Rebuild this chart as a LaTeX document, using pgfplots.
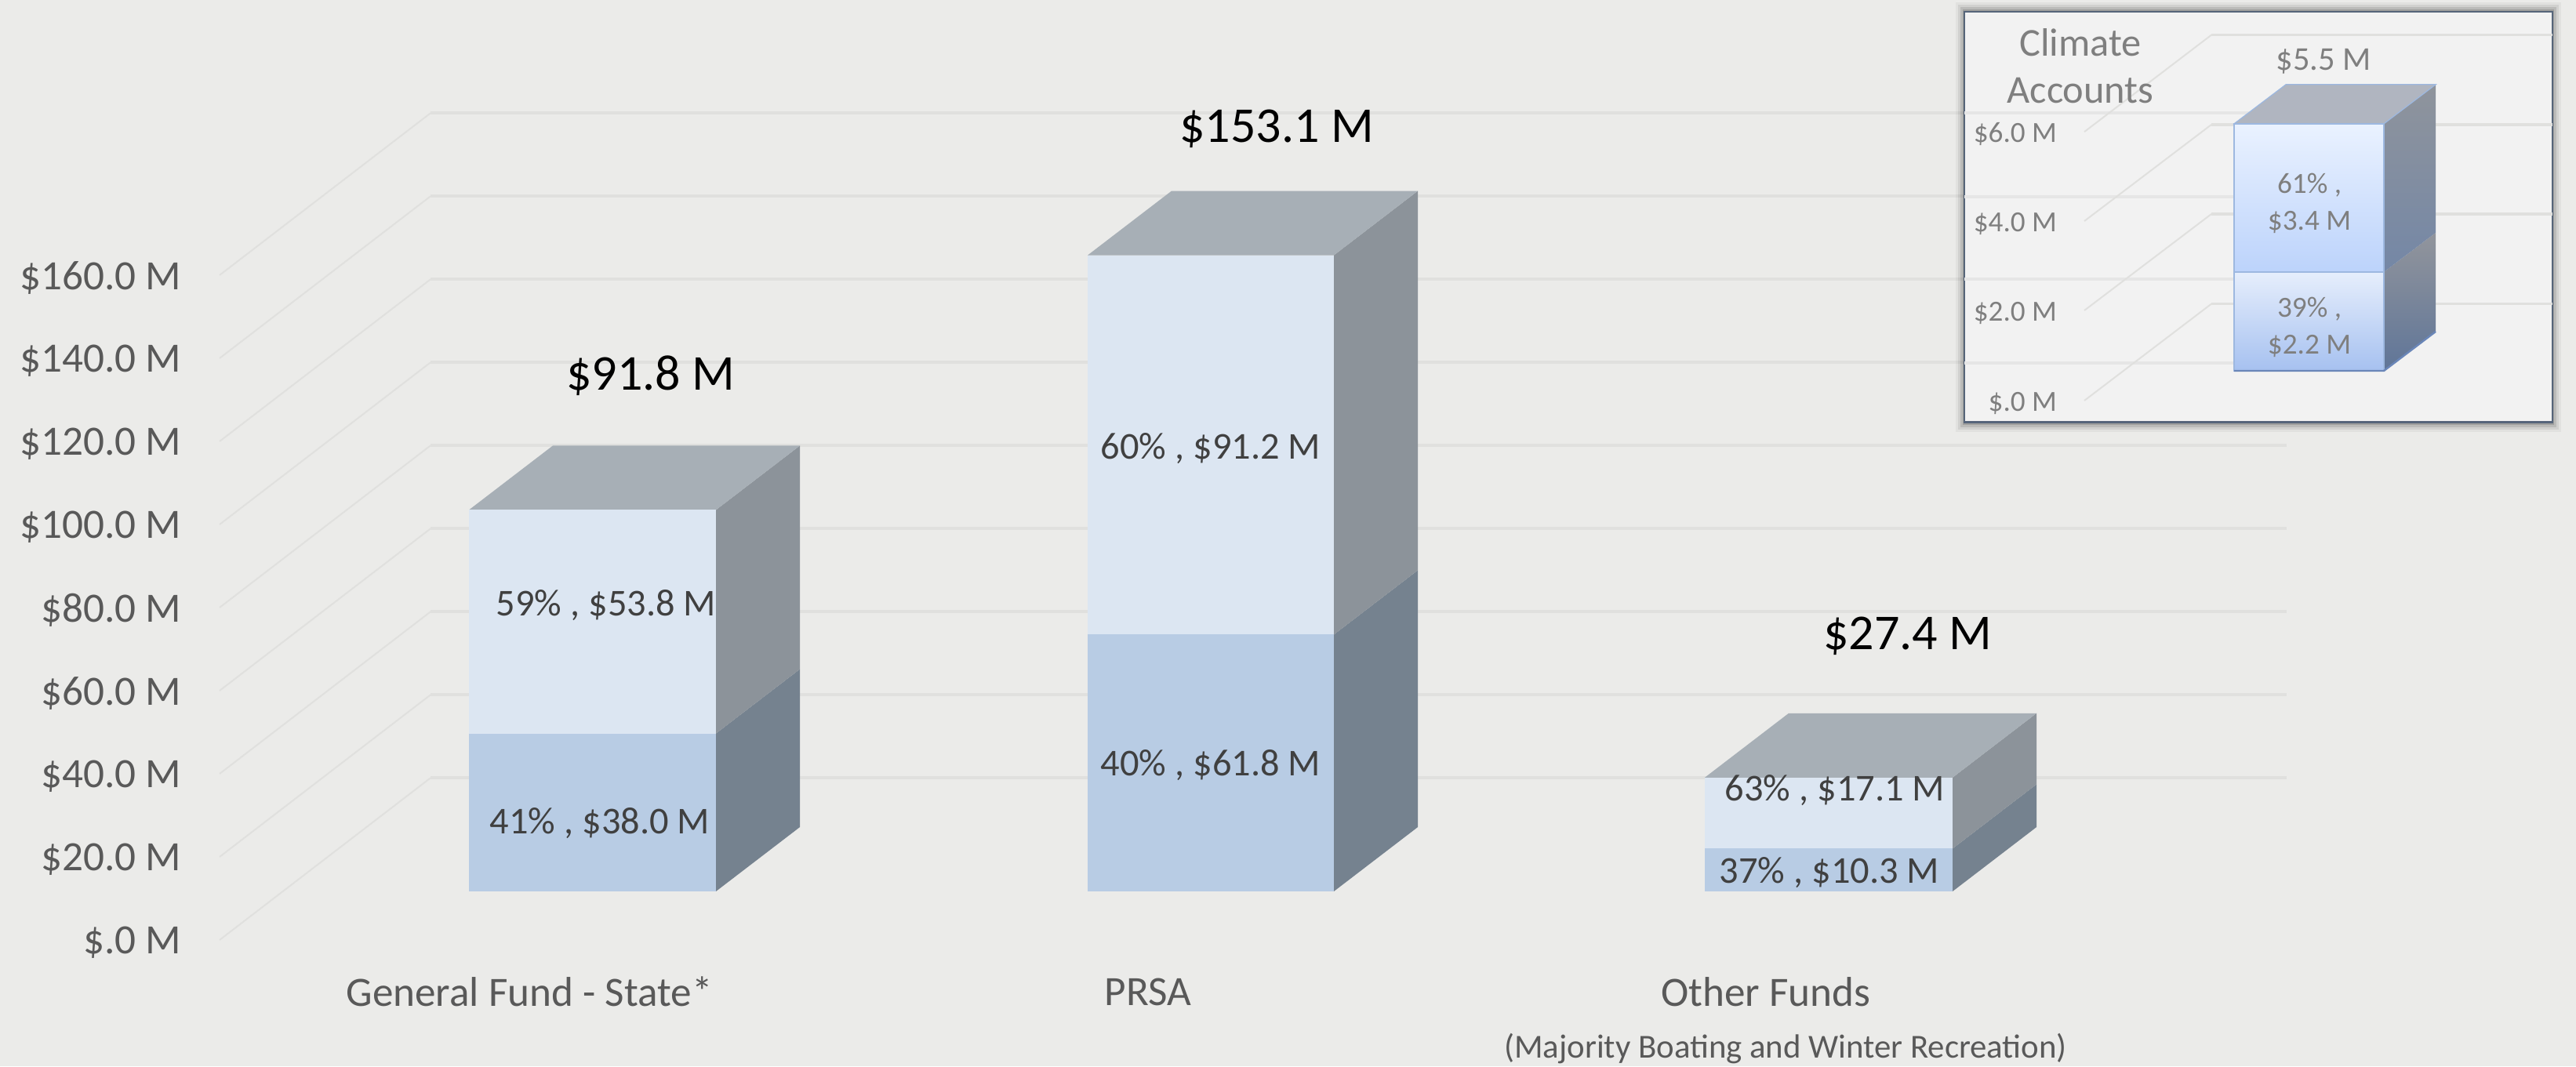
\documentclass[border=0pt]{standalone}
\usepackage{fontspec}
\setmainfont{Carlito}
\usepackage{pgfplots}
\pgfplotsset{compat=1.18}
\definecolor{bg}{HTML}{EBEBE9}
\definecolor{gridc}{HTML}{E0E0DE}
\definecolor{ticktxt}{HTML}{595959}
\definecolor{valtxt}{HTML}{404040}
\definecolor{insettxt}{HTML}{7F7F7F}
\definecolor{frontup}{HTML}{DCE6F2}
\definecolor{frontlo}{HTML}{B8CCE4}
\definecolor{sideup}{HTML}{8C939A}
\definecolor{sidelo}{HTML}{75828F}
\definecolor{topc}{HTML}{A7AFB6}
% inset colours
\definecolor{boxc}{HTML}{F2F2F2}
\definecolor{boxline}{HTML}{56657A}
\definecolor{boxgrid}{HTML}{E6E6E6}
\definecolor{inedge}{HTML}{9DB8E0}
\definecolor{inbase}{HTML}{6A86B8}
\definecolor{intop}{HTML}{B0B5C0}
\definecolor{insideAt}{HTML}{92959C}
\definecolor{insideAb}{HTML}{5F7598}
\definecolor{insideBt}{HTML}{8F949C}
\definecolor{insideBb}{HTML}{7487A6}
\definecolor{inloT}{HTML}{E6EEFC}
\definecolor{inloB}{HTML}{A6C1F0}
\definecolor{inupT}{HTML}{EAF2FF}
\definecolor{inupB}{HTML}{BCD3FB}
\newcommand{\fs}[1]{\fontsize{#1}{#1}\selectfont}
\begin{document}
\begin{tikzpicture}
\useasboundingbox (0,0) rectangle (821.25pt,340pt);
\begin{axis}[
    name=main,
    scale only axis, width=821.25pt, height=340pt,
    xmin=0, xmax=3285, ymin=-42.08, ymax=214.53,
    axis background/.style={fill=bg},
    axis line style={draw=none},
    major tick length=0pt,
    unbounded coords=jump,
    ytick={-11.7,8.3,28.3,48.3,68.3,88.3,108.3,128.3,148.3},
    yticklabels={\$.0 M,\$20.0 M,\$40.0 M,\$60.0 M,\$80.0 M,\$100.0 M,\$120.0 M,\$140.0 M,\$160.0 M},
    yticklabel style={anchor=east, xshift=58pt, yshift=-0.9pt, inner sep=0pt, text=ticktxt, font=\fs{13.3}},
    xtick={675,1464,2252},
    xticklabels={General Fund - State*,PRSA,Other Funds},
    xticklabel style={anchor=center, yshift=23.7pt, inner sep=0pt, text=ticktxt, font=\fs{13.3}},
]
% floor/wall gridlines, slanted part then the long back part
\addplot[gridc, line width=0.5pt] coordinates {
 (280,-11.7) (549,27.3) (nan,nan) (280,8.3) (549,47.3) (nan,nan)
 (280,28.3) (549,67.3) (nan,nan) (280,48.3) (549,87.3) (nan,nan)
 (280,68.3) (549,107.3) (nan,nan) (280,88.3) (549,127.3) (nan,nan)
 (280,108.3) (549,147.3) (nan,nan) (280,128.3) (549,167.3) (nan,nan)
 (280,148.3) (549,187.3)};
\addplot[gridc, line width=1pt] coordinates {
 (549,27.3) (2916,27.3) (nan,nan) (549,47.3) (2916,47.3) (nan,nan)
 (549,67.3) (2916,67.3) (nan,nan) (549,87.3) (2916,87.3) (nan,nan)
 (549,107.3) (2916,107.3) (nan,nan) (549,127.3) (2916,127.3) (nan,nan)
 (549,147.3) (2916,147.3) (nan,nan) (549,167.3) (2916,167.3) (nan,nan)
 (549,187.3) (2916,187.3)};

% General Fund - State: 38.0 + 53.8
\addplot[fill=sidelo, draw=none] coordinates {(913,0) (1020,15.47) (1020,53.47) (913,38)} -- cycle;
\addplot[fill=sideup, draw=none] coordinates {(913,38) (1020,53.47) (1020,107.27) (913,91.8)} -- cycle;
\addplot[fill=topc, draw=none] coordinates {(598,91.8) (913,91.8) (1020,107.27) (705,107.27)} -- cycle;
\addplot[fill=frontlo, draw=none] coordinates {(598,0) (913,0) (913,38) (598,38)} -- cycle;
\addplot[fill=frontup, draw=none] coordinates {(598,38) (913,38) (913,91.8) (598,91.8)} -- cycle;

% PRSA: 61.8 + 91.2
\addplot[fill=sidelo, draw=none] coordinates {(1701,0) (1808,15.47) (1808,77.27) (1701,61.8)} -- cycle;
\addplot[fill=sideup, draw=none] coordinates {(1701,61.8) (1808,77.27) (1808,168.57) (1701,153.1)} -- cycle;
\addplot[fill=topc, draw=none] coordinates {(1387,153.1) (1701,153.1) (1808,168.57) (1494,168.57)} -- cycle;
\addplot[fill=frontlo, draw=none] coordinates {(1387,0) (1701,0) (1701,61.8) (1387,61.8)} -- cycle;
\addplot[fill=frontup, draw=none] coordinates {(1387,61.8) (1701,61.8) (1701,153.1) (1387,153.1)} -- cycle;

% Other Funds: 10.3 + 17.1
\addplot[fill=sidelo, draw=none] coordinates {(2490,0) (2597,15.47) (2597,25.77) (2490,10.3)} -- cycle;
\addplot[fill=sideup, draw=none] coordinates {(2490,10.3) (2597,25.77) (2597,42.87) (2490,27.4)} -- cycle;
\addplot[fill=topc, draw=none] coordinates {(2174,27.4) (2490,27.4) (2597,42.87) (2281,42.87)} -- cycle;
\addplot[fill=frontlo, draw=none] coordinates {(2174,0) (2490,0) (2490,10.3) (2174,10.3)} -- cycle;
\addplot[fill=frontup, draw=none] coordinates {(2174,10.3) (2490,10.3) (2490,27.4) (2174,27.4)} -- cycle;

% inset shadow
\addplot[fill=black, fill opacity=0.04, draw=none] coordinates {(2494,214.0) (3266,214.0) (3266,110.6) (2494,110.6)} -- cycle;
\addplot[fill=black, fill opacity=0.07, draw=none] coordinates {(2497,213.4) (3263,213.4) (3263,111.2) (2497,111.2)} -- cycle;
\addplot[fill=black, fill opacity=0.10, draw=none] coordinates {(2500,212.9) (3260,212.9) (3260,111.7) (2500,111.7)} -- cycle;
\addplot[fill=black, fill opacity=0.14, draw=none] coordinates {(2503,212.3) (3257,212.3) (3257,112.3) (2503,112.3)} -- cycle;

\node[font=\fs{16}, text=black] at (axis cs:830,124.2) {\$91.8 M};
\node[font=\fs{16}, text=black] at (axis cs:1628,183.6) {\$153.1 M};
\node[font=\fs{16}, text=black] at (axis cs:2433,61.5) {\$27.4 M};
\node[font=\fs{12.1}, text=valtxt] at (axis cs:773,68.8) {59\% , \$53.8 M};
\node[font=\fs{12.1}, text=valtxt] at (axis cs:765,16.4) {41\% , \$38.0 M};
\node[font=\fs{12.1}, text=valtxt] at (axis cs:1544,106.6) {60\% , \$91.2 M};
\node[font=\fs{12.1}, text=valtxt] at (axis cs:1544,30.4) {40\% , \$61.8 M};
\node[font=\fs{12.1}, text=valtxt] at (axis cs:2340,24.3) {63\% , \$17.1 M};
\node[font=\fs{12.1}, text=valtxt] at (axis cs:2333,4.5) {37\% , \$10.3 M};
\node[font=\fs{10.7}, text=ticktxt] at (axis cs:2277,-37.9) {(Majority Boating and Winter Recreation)};
\end{axis}

\begin{axis}[
    at={(626.25pt,205.35pt)}, anchor=south west,
    scale only axis, width=187.5pt, height=130.9pt,
    xmin=2505, xmax=3255, ymin=-1.145, ymax=7.993,
    axis background/.style={fill=boxc},
    axis line style={draw=boxline, line width=0.7pt},
    major tick length=0pt,
    unbounded coords=jump,
    ytick={-0.663,1.344,3.333,5.32},
    yticklabels={\$.0 M,\$2.0 M,\$4.0 M,\$6.0 M},
    yticklabel style={anchor=east, xshift=29.7pt, yshift=-0.8pt, inner sep=0pt, text=insettxt, font=\fs{9.3}},
    xtick=\empty,
]
% main chart gridlines seen through the box
\addplot[boxgrid, line width=1pt] coordinates {
 (2505,5.742) (2916,5.742) (nan,nan) (2505,3.874) (2916,3.874) (nan,nan)
 (2505,2.042) (2916,2.042) (nan,nan) (2505,0.175) (2916,0.175)};
\addplot[gridc, line width=0.5pt] coordinates {
 (2658,-0.663) (2820,1.49) (nan,nan) (2658,1.344) (2820,3.49) (nan,nan)
 (2658,3.333) (2820,5.48) (nan,nan) (2658,5.32) (2820,7.476)};
\addplot[gridc, line width=0.8pt] coordinates {
 (2820,1.49) (3255,1.49) (nan,nan) (2820,3.49) (3255,3.49) (nan,nan)
 (2820,5.48) (3255,5.48) (nan,nan) (2820,7.476) (3255,7.476)};

% Climate Accounts: 2.2 + 3.3
\addplot[top color=insideAt, bottom color=insideAb, draw=none] coordinates {(3040,0) (3106,0.873) (3106,3.073) (3040,2.2)} -- cycle;
\addplot[top color=insideBt, bottom color=insideBb, draw=none] coordinates {(3040,2.2) (3106,3.073) (3106,6.373) (3040,5.5)} -- cycle;
\addplot[fill=intop, draw=inedge, line width=0.3pt] coordinates {(2849,5.5) (3040,5.5) (3106,6.373) (2915,6.373)} -- cycle;
\addplot[top color=inloT, bottom color=inloB, draw=inedge, line width=0.4pt] coordinates {(2849,0) (3040,0) (3040,2.2) (2849,2.2)} -- cycle;
\addplot[top color=inupT, bottom color=inupB, draw=inedge, line width=0.4pt] coordinates {(2849,2.2) (3040,2.2) (3040,5.5) (2849,5.5)} -- cycle;
\addplot[inbase, line width=0.6pt] coordinates {(2849,0) (3040,0) (3106,0.873)};

\node[font=\fs{10.6}, text=insettxt] at (axis cs:2963,6.88) {\$5.5 M};
\node[font=\fs{9.3}, text=insettxt, align=center] at (axis cs:2945,3.73) {61\% ,\\[2.4pt]\$3.4 M};
\node[font=\fs{9.3}, text=insettxt, align=center] at (axis cs:2945,0.977) {39\% ,\\[2.4pt]\$2.2 M};
\node[font=\fs{12.6}, text=insettxt, align=center] at (axis cs:2653,6.79) {Climate\\[2.5pt]Accounts};
\end{axis}
\end{tikzpicture}
\end{document}
